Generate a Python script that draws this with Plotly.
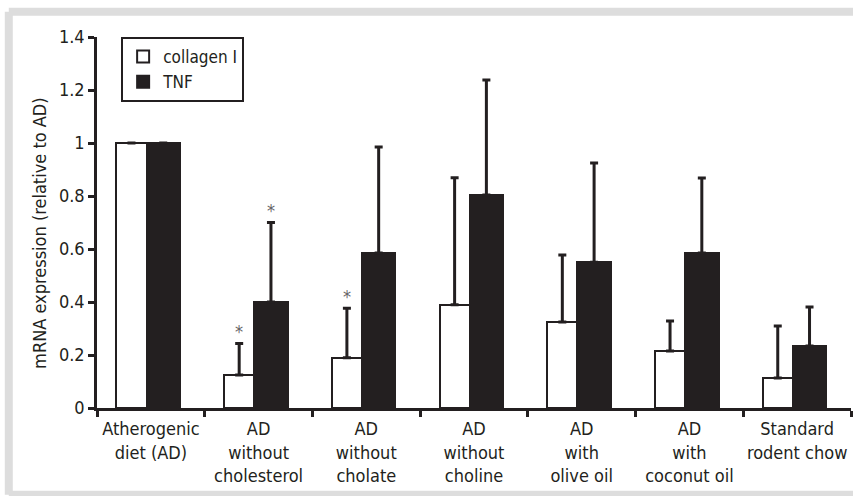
import plotly.graph_objects as go

categories = [
    "Atherogenic<br>diet (AD)",
    "AD<br>without<br>cholesterol",
    "AD<br>without<br>cholate",
    "AD<br>without<br>choline",
    "AD<br>with<br>olive oil",
    "AD<br>with<br>coconut oil",
    "Standard<br>rodent chow",
]
collagen = [1.0, 0.125, 0.19, 0.39, 0.325, 0.215, 0.113]
collagen_err = [None, 0.118, 0.186, 0.479, 0.252, 0.113, 0.196]
tnf = [1.0, 0.40, 0.585, 0.804, 0.55, 0.585, 0.234]
tnf_err = [None, 0.30, 0.40, 0.434, 0.375, 0.283, 0.147]
collagen_sig = [False, True, True, False, False, False, False]
tnf_sig = [False, True, False, False, False, False, False]
y_ticks = [0, 0.2, 0.4, 0.6, 0.8, 1, 1.2, 1.4]
y_title = "mRNA expression (relative to AD)"
series_names = ["collagen I", "TNF"]

INK = "#231f20"
FRAME = "#dddddd"
FONT = "DejaVu Sans Condensed, sans-serif"
x = list(range(len(categories)))

C_OFF, C_W = -0.32, 0.28
T_OFF, T_W = -0.04, 0.31

fig = go.Figure()
fig.add_trace(go.Bar(
    x=x, y=collagen, name=series_names[0],
    offset=C_OFF, width=C_W,
    marker=dict(color="white", line=dict(color=INK, width=2)),
    error_y=dict(type="data", symmetric=False, array=collagen_err,
                 arrayminus=[0] * len(x), color=INK, thickness=3, width=4),
))
fig.add_trace(go.Bar(
    x=x, y=tnf, name=series_names[1],
    offset=T_OFF, width=T_W,
    marker=dict(color=INK, line=dict(color=INK, width=2)),
    error_y=dict(type="data", symmetric=False, array=tnf_err,
                 arrayminus=[0] * len(x), color=INK, thickness=3, width=4),
))

annotations = []
for i in x:
    if collagen_sig[i]:
        annotations.append(dict(x=i + C_OFF + C_W / 2, y=collagen[i] + collagen_err[i],
                                xref="x", yref="y", text="*", showarrow=False,
                                yshift=12, font=dict(size=18, color="#666666", family=FONT)))
    if tnf_sig[i]:
        annotations.append(dict(x=i + T_OFF + T_W / 2, y=tnf[i] + tnf_err[i],
                                xref="x", yref="y", text="*", showarrow=False,
                                yshift=12, font=dict(size=18, color="#666666", family=FONT)))
annotations.append(dict(x=-0.0756, y=0.472, xref="paper", yref="paper",
                        text=y_title, textangle=-90, showarrow=False,
                        xanchor="center", yanchor="middle",
                        font=dict(size=18, color=INK, family=FONT)))

# light gray frame: top, left and bottom edges (right edge lies outside the view)
fx0, fx1, fy0, fy1 = -0.117, 1.05, -0.234, 1.068
frame_shapes = [
    dict(type="line", xref="paper", yref="paper", x0=fx0, x1=fx1, y0=fy1, y1=fy1,
         line=dict(color=FRAME, width=8), layer="below"),
    dict(type="line", xref="paper", yref="paper", x0=fx0, x1=fx1, y0=fy0, y1=fy0,
         line=dict(color=FRAME, width=8), layer="below"),
    dict(type="line", xref="paper", yref="paper", x0=fx0, x1=fx0, y0=fy0, y1=fy1,
         line=dict(color=FRAME, width=8), layer="below"),
]

fig.update_layout(
    width=853, height=496,
    margin=dict(l=97, r=2, t=37, b=88),
    paper_bgcolor="white", plot_bgcolor="white",
    font=dict(family=FONT, color=INK, size=18),
    showlegend=True,
    legend=dict(x=0.032, y=1.0, xanchor="left", yanchor="top",
                bordercolor=INK, borderwidth=2, bgcolor="white",
                font=dict(size=17, color=INK, family=FONT),
                itemwidth=30, tracegroupgap=0),
    annotations=annotations,
    shapes=frame_shapes,
    bargap=0,
)
fig.update_xaxes(
    range=[-0.5, len(categories) - 0.5],
    tickvals=x, ticktext=categories, ticks="", ticklen=0,
    tickfont=dict(size=18, color=INK, family=FONT),
    ticklabelstandoff=3,
    showline=True, linecolor=INK, linewidth=2.5,
    showgrid=False, zeroline=False,
    minor=dict(tickvals=[i - 0.5 for i in range(len(categories) + 1)],
               ticks="outside", ticklen=6, tickwidth=2.5, tickcolor=INK, showgrid=False),
)
fig.update_yaxes(
    range=[0, 1.4], tickvals=y_ticks, ticktext=[str(v) for v in y_ticks],
    ticks="outside", ticklen=6, tickwidth=2.5, tickcolor=INK,
    tickfont=dict(size=18, color=INK, family=FONT),
    showline=True, linecolor=INK, linewidth=2.5,
    showgrid=False, zeroline=False,
)

fig.write_html("out.html", config={"displayModeBar": False},
               post_script="document.body.style.margin='0';document.body.style.overflow='hidden';")
